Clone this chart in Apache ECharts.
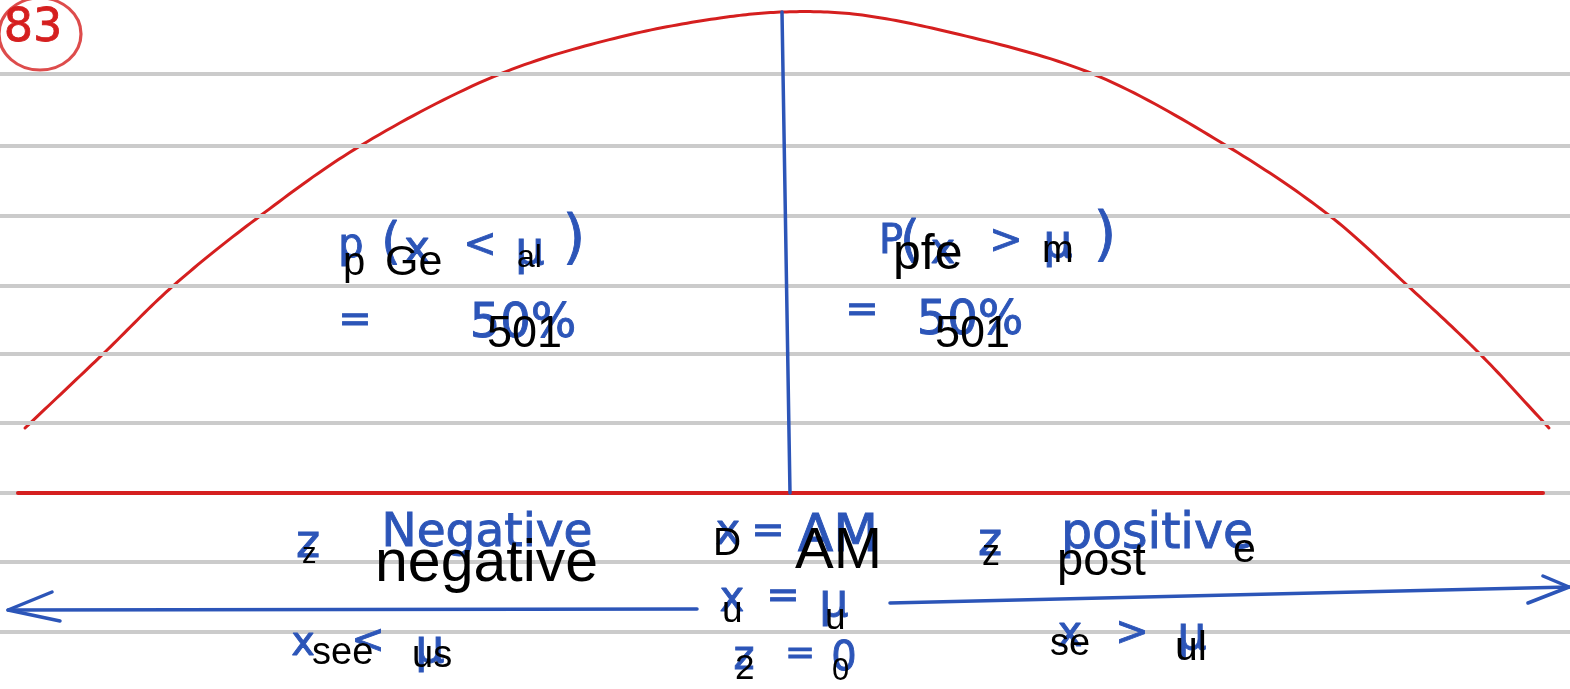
<!DOCTYPE html>
<html>
<head>
<meta charset="utf-8">
<style>
  html, body { margin: 0; padding: 0; background: #ffffff; }
  #chart { width: 1570px; height: 689px; }
</style>
<script src="https://cdn.jsdelivr.net/npm/echarts@6/dist/echarts.min.js"></script>
</head>
<body>
<div id="chart"></div>
<script>
// Sheet coordinates: x across the page, y down the page
var sheetWidth = 1570;
var sheetHeight = 689;

// Ruled lines of the notebook paper
var ruleLevels = [74, 146, 216, 286, 354, 423, 493, 562, 632];

// The bell curve, sampled along its outline
var curveX = [25, 103, 173, 260, 360, 500, 620, 720, 783, 853, 953, 1093, 1227, 1330, 1408, 1480, 1549];
var curveY = [428, 354, 286, 216, 146, 74, 37, 18, 12, 14, 33, 74, 146, 216, 286, 354, 428];

// Horizontal base of the curve
var baseLine = [[18, 493], [1543, 493]];

// Mean line (x = μ), from the peak down to the base
var meanLine = [[782, 12], [790, 493]];

// Left arrow (z negative) and right arrow (z positive)
var leftShaft = [[697, 609], [8, 610]];
var leftHead = [[52, 592], [8, 610], [60, 621]];
var rightShaft = [[890, 603], [1569, 587]];
var rightHead = [[1543, 576], [1569, 587], [1528, 603]];

// Handwritten notes, piece by piece: text, centre x, centre y, size
var noteText = [
  'p', '(', 'x', '<', 'μ', ')',
  '=', '50%',
  'P', '(', 'x', '>', 'μ', ')',
  '=', '50%',
  'z', 'Negative',
  'x', '=', 'AM',
  'x', '=', 'μ',
  'z', '=', '0',
  'z', 'positive',
  'x', '<', 'μ',
  'x', '>', 'μ'
];
var noteX = [
  351, 391, 417, 480, 530, 574,
  355, 523,
  891, 910, 943, 1006, 1058, 1105,
  862, 970,
  308, 487,
  728, 768, 838,
  732, 783, 834,
  744, 800, 844,
  990, 1157,
  303, 368, 430,
  1070, 1132, 1192
];
var noteY = [
  247, 245, 251, 247, 252, 242,
  322, 325,
  243, 243, 252, 243, 245, 239,
  312, 322,
  545, 534,
  533, 533, 537,
  600, 598, 604,
  659, 655, 660,
  543, 535,
  645, 643, 650,
  635, 635, 637
];
var noteSize = [
  40, 50, 44, 40, 46, 58,
  40, 48,
  40, 50, 42, 40, 46, 58,
  40, 48,
  46, 47,
  42, 40, 52,
  42, 40, 46,
  40, 36, 40,
  46, 49,
  40, 40, 46,
  42, 40, 46
];

// Page number, circled in red
var pageNumber = '83';
var pageNumberAt = [33, 29];
var pageCircleAt = [40, 34];

// Recognised words laid over the notes: text, left x, baseline y, size
var wordText = ['p', 'Ge', 'al', '501', 'pfe', 'm', '501', 'z', 'negative', 'see', 'us', 'D', 'AM', 'u', 'u', '2', '0', 'z', 'post', 'e', 'se', 'ul'];
var wordX    = [343, 385, 517, 487, 893, 1042, 935, 302, 375, 312, 412, 713, 795, 722, 825, 735, 832, 982, 1057, 1233, 1050, 1175];
var wordY    = [278, 278, 269, 350, 273, 265, 350, 565, 585, 667, 670, 558, 572, 625, 632, 682, 682, 568, 578, 565, 658, 663];
var wordSize = [40, 43, 32, 45, 50, 38, 45, 29, 59, 38, 38, 39, 58, 37, 37, 35, 31, 36, 47, 41, 38, 41];

var RED = '#d51f1f';
var BLUE = '#2c55b8';
var RULE = '#cbcbcb';

function pairs(xs, ys) {
  return xs.map(function (x, i) { return [x, ys[i]]; });
}

function plainLine(data, color, width) {
  return {
    type: 'line',
    data: data,
    symbol: 'none',
    silent: true,
    animation: false,
    lineStyle: { color: color, width: width, cap: 'round', join: 'round' }
  };
}

var series = [];

ruleLevels.forEach(function (y) {
  series.push(plainLine([[0, y], [sheetWidth, y]], RULE, 4));
});

// Bell curve: the sampled outline is mapped through the axes and traced
// as a centripetal Catmull-Rom spline so it passes through every sample.
series.push({
  type: 'custom',
  silent: true,
  animation: false,
  data: [0],
  renderItem: function (params, api) {
    var pts = pairs(curveX, curveY).map(function (d) { return api.coord(d); });
    var n = pts.length;
    var ext = [
      [2 * pts[0][0] - pts[1][0], 2 * pts[0][1] - pts[1][1]]
    ].concat(pts, [[2 * pts[n - 1][0] - pts[n - 2][0], 2 * pts[n - 1][1] - pts[n - 2][1]]]);
    function tj(ti, a, b) {
      var dx = b[0] - a[0], dy = b[1] - a[1];
      return ti + Math.pow(Math.sqrt(dx * dx + dy * dy), 0.5);
    }
    function lerp(a, b, ta, tb, t) {
      var w = (t - ta) / (tb - ta);
      return [a[0] + (b[0] - a[0]) * w, a[1] + (b[1] - a[1]) * w];
    }
    var out = [pts[0]];
    var steps = 20;
    for (var i = 1; i < ext.length - 2; i++) {
      var P0 = ext[i - 1], P1 = ext[i], P2 = ext[i + 1], P3 = ext[i + 2];
      var t0 = 0, t1 = tj(t0, P0, P1), t2 = tj(t1, P1, P2), t3 = tj(t2, P2, P3);
      for (var k = 1; k <= steps; k++) {
        var t = t1 + (t2 - t1) * k / steps;
        var A1 = lerp(P0, P1, t0, t1, t), A2 = lerp(P1, P2, t1, t2, t), A3 = lerp(P2, P3, t2, t3, t);
        var B1 = lerp(A1, A2, t0, t2, t), B2 = lerp(A2, A3, t1, t3, t);
        out.push(lerp(B1, B2, t1, t2, t));
      }
    }
    return {
      type: 'polyline',
      shape: { points: out },
      style: { stroke: RED, lineWidth: 3, fill: null, lineCap: 'round', lineJoin: 'round' }
    };
  },
  z: 3
});

series.push(plainLine(baseLine, RED, 4));
series.push(plainLine(meanLine, BLUE, 3.5));
series.push(plainLine(leftShaft, BLUE, 3.5));
series.push(plainLine(leftHead, BLUE, 3.5));
series.push(plainLine(rightShaft, BLUE, 3.5));
series.push(plainLine(rightHead, BLUE, 3.5));

// circle round the page number
series.push({
  type: 'scatter',
  data: [pageCircleAt],
  symbol: 'circle',
  symbolSize: [82, 72],
  silent: true,
  animation: false,
  itemStyle: { color: 'rgba(0,0,0,0)', borderColor: RED, borderWidth: 3 },
  z: 5
});

// text drawn in sheet coordinates through a custom series
function textSeries(texts, xs, ys, sizes, styleFor, z) {
  return {
    type: 'custom',
    silent: true,
    animation: false,
    data: texts.map(function (t, i) { return [xs[i], ys[i], sizes[i], i]; }),
    renderItem: function (params, api) {
      var p = api.coord([api.value(0), api.value(1)]);
      var i = api.value(3);
      var s = api.value(2);
      var st = styleFor(texts[i], s);
      return { type: 'text', x: p[0], y: p[1] + (st.dy || 0), style: st.style };
    },
    z: z
  };
}

// page number
series.push(textSeries([pageNumber], [pageNumberAt[0]], [pageNumberAt[1]], [46], function (t, s) {
  return { style: {
    text: t, fill: RED, stroke: RED, lineWidth: 0.8,
    fontSize: s, fontFamily: 'DejaVu Sans', align: 'center', verticalAlign: 'middle'
  } };
}, 6));

// handwritten notes
series.push(textSeries(noteText, noteX, noteY, noteSize, function (t, s) {
  return { style: {
    text: t, fill: BLUE, stroke: BLUE, lineWidth: 0.9,
    fontSize: s, fontFamily: 'DejaVu Sans', align: 'center', verticalAlign: 'middle'
  } };
}, 6));

// recognised words on top
series.push(textSeries(wordText, wordX, wordY, wordSize, function (t, s) {
  return { dy: -0.35 * s, style: {
    text: t, fill: '#000000',
    fontSize: s, fontFamily: 'Liberation Sans', align: 'left', verticalAlign: 'middle'
  } };
}, 10));

var chart = echarts.init(document.getElementById('chart'), null, { renderer: 'canvas' });
chart.setOption({
  backgroundColor: '#ffffff',
  animation: false,
  grid: { left: 0, right: 0, top: 0, bottom: 0 },
  xAxis: { type: 'value', min: 0, max: sheetWidth, show: false },
  yAxis: { type: 'value', min: 0, max: sheetHeight, inverse: true, show: false },
  series: series
});
</script>
</body>
</html>
